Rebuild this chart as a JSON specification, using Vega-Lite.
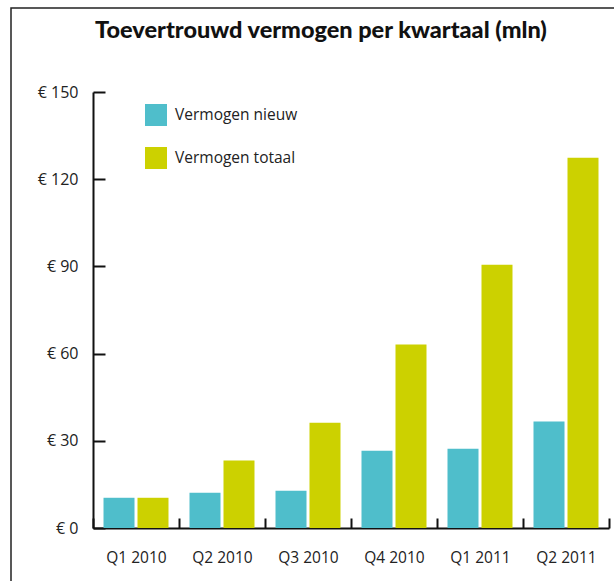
{
  "$schema": "https://vega.github.io/schema/vega-lite/v6.json",
  "width": 620,
  "height": 590,
  "autosize": {"type": "none"},
  "padding": {"left": 11, "top": 8, "right": 0, "bottom": 0},
  "background": "white",
  "title": {
    "text": "Toevertrouwd vermogen per kwartaal (mln)",
    "anchor": "middle",
    "font": "Lato",
    "fontSize": 23.5,
    "fontWeight": 900,
    "color": "#111111",
    "offset": -34
  },
  "data": {
    "values": [
      {"kwartaal": "Q1 2010", "reeks": "Vermogen nieuw", "waarde": 10.4},
      {"kwartaal": "Q1 2010", "reeks": "Vermogen totaal", "waarde": 10.4},
      {"kwartaal": "Q2 2010", "reeks": "Vermogen nieuw", "waarde": 12.1},
      {"kwartaal": "Q2 2010", "reeks": "Vermogen totaal", "waarde": 23.2},
      {"kwartaal": "Q3 2010", "reeks": "Vermogen nieuw", "waarde": 12.8},
      {"kwartaal": "Q3 2010", "reeks": "Vermogen totaal", "waarde": 36.2},
      {"kwartaal": "Q4 2010", "reeks": "Vermogen nieuw", "waarde": 26.6},
      {"kwartaal": "Q4 2010", "reeks": "Vermogen totaal", "waarde": 63.1},
      {"kwartaal": "Q1 2011", "reeks": "Vermogen nieuw", "waarde": 27.3},
      {"kwartaal": "Q1 2011", "reeks": "Vermogen totaal", "waarde": 90.6},
      {"kwartaal": "Q2 2011", "reeks": "Vermogen nieuw", "waarde": 36.6},
      {"kwartaal": "Q2 2011", "reeks": "Vermogen totaal", "waarde": 127.4}
    ]
  },
  "mark": {"type": "bar"},
  "encoding": {
    "x": {
      "field": "kwartaal",
      "type": "nominal",
      "sort": null,
      "scale": {"range": [82, 598], "paddingInner": 0, "paddingOuter": 0},
      "axis": {
        "title": null,
        "orient": "bottom",
        "offset": -70,
        "labelAngle": 0,
        "tickBand": "extent",
        "tickSize": -10,
        "labelPadding": 32
      }
    },
    "xOffset": {
      "field": "reeks",
      "type": "nominal",
      "sort": ["Vermogen nieuw", "Vermogen totaal"],
      "scale": {"paddingInner": 0.088, "paddingOuter": 0.309}
    },
    "y": {
      "field": "waarde",
      "type": "quantitative",
      "scale": {"domain": [0, 150], "range": [520, 84], "nice": false, "zero": true},
      "axis": {
        "title": null,
        "orient": "left",
        "offset": -82,
        "values": [0, 30, 60, 90, 120, 150],
        "labelExpr": "'€ ' + datum.value",
        "tickSize": -12,
        "labelPadding": 27,
        "labelFontSize": 16,
        "grid": false
      }
    },
    "color": {
      "field": "reeks",
      "type": "nominal",
      "scale": {
        "domain": ["Vermogen nieuw", "Vermogen totaal"],
        "range": ["#4FBECB", "#CCD100"]
      },
      "legend": {
        "orient": "none",
        "legendX": 134,
        "legendY": 96,
        "title": null,
        "padding": 0,
        "symbolType": "square",
        "symbolSize": 484,
        "symbolStrokeWidth": 0,
        "symbolOpacity": 1,
        "labelOffset": 8,
        "rowPadding": 21,
        "labelFont": "Open Sans",
        "labelFontSize": 15.5,
        "labelColor": "#222222"
      }
    }
  },
  "config": {
    "view": {"stroke": "#222222", "strokeWidth": 1.5},
    "axis": {
      "domainColor": "#111111",
      "domainWidth": 2,
      "tickColor": "#111111",
      "tickWidth": 2,
      "labelFont": "Open Sans",
      "labelFontSize": 15.5,
      "labelColor": "#222222",
      "grid": false
    }
  }
}
